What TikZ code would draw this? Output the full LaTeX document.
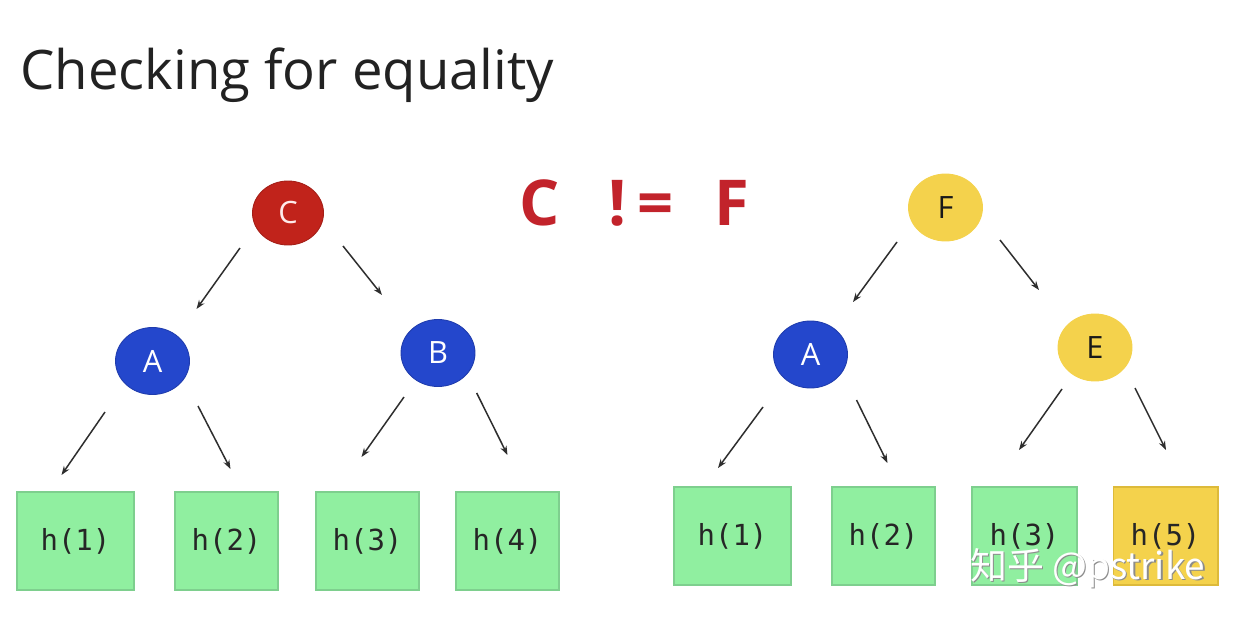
\documentclass[tikz,border=0pt]{standalone}
\usepackage{fontspec}
\setmainfont{Open Sans}
\newfontfamily\monof{DejaVu Sans Mono}
\newfontfamily\cjkf{Noto Sans CJK SC}
\usetikzlibrary{shapes.geometric,arrows.meta}
\definecolor{nodered}{HTML}{C1231B}
\definecolor{nodeblue}{HTML}{2447CC}
\definecolor{nodeyellow}{HTML}{F4D24C}
\definecolor{leafgreen}{HTML}{90EFA0}
\definecolor{leafedge}{HTML}{7ECF8E}
\definecolor{leafyellow}{HTML}{F4D24C}
\definecolor{leafyedge}{HTML}{DDBA3A}
\definecolor{arrowgray}{HTML}{2E2E2E}
\definecolor{titlegray}{HTML}{222222}
\definecolor{neqred}{HTML}{C2232B}
\tikzset{
  tnode/.style={ellipse, minimum width=1.48cm, minimum height=1.34cm, inner sep=0pt,
    line width=0.5pt, font=\fontsize{17.5}{20}\selectfont},
  rednode/.style={tnode, fill=nodered, draw=nodered!85!black, text=white!92!red},
  bluenode/.style={tnode, fill=nodeblue, draw=nodeblue!85!black, text=white},
  yellownode/.style={tnode, fill=nodeyellow, draw=nodeyellow, text=black!90},
  leaf/.style={rectangle, fill=leafgreen, draw=leafedge, line width=0.6pt,
    minimum height=1.96cm, minimum width=2.06cm, inner sep=0pt,
    font=\monof\fontsize{16.5}{18}\selectfont, text=black!85},
  wideleaf/.style={leaf, minimum width=2.34cm},
  yleaf/.style={leaf, fill=leafyellow, draw=leafyedge},
  arr/.style={draw=arrowgray, line width=0.85pt, -{Stealth[length=0.18cm,width=0.13cm]}}
}
\begin{document}
\begin{tikzpicture}[x=0.02cm,y=-0.02cm]
\useasboundingbox[fill=white] (0,0) rectangle (1240,622);

\node[anchor=base west, inner sep=0pt, text=titlegray, font=\fontsize{31}{36}\selectfont]
  (title) at (20,89) {Checking for equality};

\node[anchor=base west, inner sep=0pt, text=neqred, font=\bfseries\fontsize{36}{42}\selectfont]
  (neq) at (519,225) {C\hspace{0.98cm}!\hspace{0.22cm}=\hspace{0.82cm}F};

% left tree
\node[rednode, minimum width=1.42cm, minimum height=1.28cm] (C) at (288,213) {C};
\node[bluenode] (LA) at (152.5,361) {A};
\node[bluenode] (B) at (438,353) {B};
\node[wideleaf] (L1) at (75.5,541) {h(1)};
\node[leaf] (L2) at (226.5,541) {h(2)};
\node[leaf] (L3) at (367.5,541) {h(3)};
\node[leaf] (L4) at (507.5,541) {h(4)};

% right tree
\node[yellownode] (F) at (945.5,207.5) {F};
\node[bluenode] (RA) at (810.5,354.5) {A};
\node[yellownode] (E) at (1095,347.5) {E};
\node[wideleaf] (R1) at (732.5,536) {h(1)};
\node[leaf] (R2) at (883.5,536) {h(2)};
\node[leaf, minimum width=2.1cm] (R3) at (1024.5,536) {h(3)};
\node[yleaf, minimum width=2.1cm] (R5) at (1165.5,536) {h(5)};

% left arrows
\draw[arr] ([shift={(-48,35)}]C.center) -- ([shift={(44,-52)}]LA.center);
\draw[arr] ([shift={(55,33)}]C.center) -- ([shift={(-56,-58)}]B.center);
\draw[arr] ([shift={(-47.5,51)}]LA.center) -- ([shift={(-14,-66)}]L1.center);
\draw[arr] ([shift={(45.5,45)}]LA.center) -- ([shift={(4,-72)}]L2.center);
\draw[arr] ([shift={(-34,44)}]B.center) -- ([shift={(-6,-84)}]L3.center);
\draw[arr] ([shift={(38.7,40)}]B.center) -- ([shift={(0,-86)}]L4.center);

% right arrows
\draw[arr] ([shift={(-48.5,34.5)}]F.center) -- ([shift={(42.5,-52.5)}]RA.center);
\draw[arr] ([shift={(54.5,32.5)}]F.center) -- ([shift={(-56,-57.5)}]E.center);
\draw[arr] ([shift={(-47.5,52.5)}]RA.center) -- ([shift={(-14.5,-68)}]R1.center);
\draw[arr] ([shift={(46,45.5)}]RA.center) -- ([shift={(4,-73)}]R2.center);
\draw[arr] ([shift={(-33,41.5)}]E.center) -- ([shift={(-5.5,-86)}]R3.center);
\draw[arr] ([shift={(40,40.5)}]E.center) -- ([shift={(0.5,-86)}]R5.center);

% watermark
\node[anchor=base west, inner sep=0pt, text=black!45, font=\cjkf\fontsize{21}{25}\selectfont]
  (wmshadow) at (971.5,580.5) {知乎 @pstrike};
\node[anchor=base west, inner sep=0pt, text=white, font=\cjkf\fontsize{21}{25}\selectfont]
  (wm) at (970,579) {知乎 @pstrike};
\end{tikzpicture}
\end{document}
